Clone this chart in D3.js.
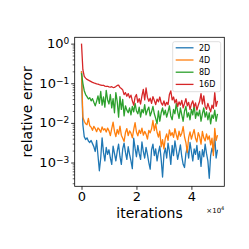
<!DOCTYPE html>
<html>
<head>
<meta charset="utf-8">
<script src="https://cdn.jsdelivr.net/npm/d3@7"></script>
<style>
  html, body { margin: 0; padding: 0; background: #fff; }
  svg { display: block; font-family: "DejaVu Sans", sans-serif; }
</style>
</head>
<body>
<svg class="main" width="249" height="249"></svg>
<script>
// iterations sampled every 500 steps
var step = 500;

var labels = ['2D', '4D', '8D', '16D'];
var colors = ['#1f77b4', '#ff7f0e', '#2ca02c', '#d62728'];

var err2D = [
    0.2, 0.009, 0.0045, 0.0038, 0.0042, 0.0035, 0.0032, 0.0036, 0.003, 0.0025,
    0.0019, 0.0036, 0.0015, 0.00062, 0.0013, 0.0042, 0.0018, 0.0011, 0.0024, 0.0016,
    0.0021, 0.0013, 0.0009, 0.0026, 0.0017, 0.0011, 0.0019, 0.0029, 0.0014, 0.0009,
    0.0022, 0.0031, 0.0018, 0.0012, 0.0025, 0.0016, 0.0011, 0.0007, 0.0041, 0.0023,
    0.0014, 0.0027, 0.0017, 0.0012, 0.0033, 0.0019, 0.0013, 0.0024, 0.0016, 0.001,
    0.00068, 0.0021, 0.0029, 0.0015, 0.0022, 0.0011, 0.0018, 0.0026, 0.0012, 0.00043,
    0.0016, 0.0023, 0.0013, 0.0031, 0.0019, 0.0009, 0.0027, 0.0015, 0.0035, 0.0021,
    0.0012, 0.0018, 0.0028, 0.0014, 0.0009, 0.00075, 0.0017, 0.0024, 0.0013, 0.0032,
    0.0019, 0.0011, 0.0022, 0.0016, 0.0027, 0.0012, 0.0019, 0.0008, 0.0021, 0.0014,
    0.0029, 0.0017, 0.0011, 0.0004, 0.0015, 0.0023, 0.0018, 0.0045, 0.0013, 0.0021
];

var err4D = [
    0.2, 0.014, 0.011, 0.0095, 0.009, 0.013, 0.0085, 0.0078, 0.0065, 0.0082,
    0.0072, 0.006, 0.0075, 0.0068, 0.0058, 0.0079, 0.0066, 0.0071, 0.0059, 0.0074,
    0.0063, 0.0048, 0.0072, 0.0105, 0.0061, 0.0045, 0.0068, 0.0052, 0.0083, 0.0049,
    0.0041, 0.0034, 0.0057, 0.0072, 0.0048, 0.0063, 0.0055, 0.0042, 0.0068, 0.0102,
    0.0059, 0.0047, 0.0066, 0.0054, 0.0074, 0.0049, 0.0061, 0.0052, 0.0039, 0.0065,
    0.0056, 0.0071, 0.0115, 0.0064, 0.0095, 0.0058, 0.0044, 0.0062, 0.0025, 0.0038,
    0.0022, 0.0041, 0.0053, 0.0036, 0.0067, 0.0048, 0.0057, 0.0043, 0.0072, 0.0051,
    0.0038, 0.0062, 0.0046, 0.0055, 0.0081, 0.0044, 0.0032, 0.0018, 0.0043, 0.0059,
    0.0039, 0.0052, 0.0068, 0.0041, 0.0033, 0.0057, 0.0045, 0.0029, 0.0061, 0.0042,
    0.0035, 0.0053, 0.0038, 0.0047, 0.0028, 0.0041, 0.0015, 0.0073, 0.0036, 0.0049
];

var err8D = [
    0.18, 0.1, 0.065, 0.052, 0.046, 0.04, 0.043, 0.036, 0.041, 0.033,
    0.027, 0.035, 0.048, 0.031, 0.062, 0.028, 0.045, 0.025, 0.066, 0.038,
    0.03, 0.052, 0.024, 0.041, 0.018, 0.058, 0.035, 0.014, 0.046, 0.022,
    0.039, 0.015, 0.027, 0.021, 0.018, 0.024, 0.016, 0.026, 0.019, 0.031,
    0.02, 0.017, 0.025, 0.014, 0.022, 0.018, 0.029, 0.016, 0.021, 0.025,
    0.015, 0.019, 0.026, 0.017, 0.013, 0.0095, 0.02, 0.011, 0.018, 0.024,
    0.016, 0.021, 0.014, 0.019, 0.027, 0.015, 0.012, 0.022, 0.017, 0.031,
    0.019, 0.013, 0.024, 0.016, 0.011, 0.02, 0.026, 0.014, 0.018, 0.012,
    0.022, 0.016, 0.028, 0.013, 0.019, 0.015, 0.021, 0.011, 0.017, 0.024,
    0.014, 0.019, 0.012, 0.018, 0.0095, 0.016, 0.013, 0.021, 0.011, 0.017
];

var err16D = [
    1.0, 0.22, 0.15, 0.135, 0.125, 0.12, 0.115, 0.11, 0.105, 0.102,
    0.1, 0.097, 0.095, 0.092, 0.09, 0.088, 0.089, 0.085, 0.083, 0.084,
    0.081, 0.08, 0.082, 0.078, 0.079, 0.083, 0.088, 0.09, 0.078, 0.074,
    0.068, 0.052, 0.058, 0.047, 0.055, 0.043, 0.05, 0.036, 0.028, 0.045,
    0.052, 0.033, 0.041, 0.03, 0.048, 0.07, 0.038, 0.076, 0.044, 0.035,
    0.042, 0.031, 0.046, 0.037, 0.029, 0.04, 0.034, 0.045, 0.032, 0.028,
    0.036, 0.027, 0.033, 0.029, 0.052, 0.064, 0.038, 0.045, 0.032, 0.039,
    0.026, 0.034, 0.028, 0.037, 0.024, 0.031, 0.041, 0.027, 0.033, 0.022,
    0.03, 0.036, 0.025, 0.032, 0.021, 0.028, 0.035, 0.055, 0.03, 0.048,
    0.026, 0.022, 0.031, 0.024, 0.019, 0.028, 0.023, 0.058, 0.026, 0.036
];

var series = [err2D, err4D, err8D, err16D];

var xTicks = [0, 20000, 40000],
    xTickLabels = ['0', '2', '4'],
    yTicks = [1, 0.1, 0.01, 0.001],
    yTickExps = ['0', '\u22121', '\u22122', '\u22123'];

// axes box (note: "top" is reserved on window, so use plot* names)
var plotLeft = 74.7,
    plotRight = 224.3,
    plotTop = 37.3,
    plotBottom = 186.3,
    lineWidth = 1.3,
    tickFont = 13,
    labelFont = 14;

var svg = d3.select('.main');

var nPts = err2D.length;
var xMax = (nPts - 1) * step,
    xPad = xMax * 0.05;

var x = d3.scaleLinear()
    .domain([-xPad, xMax + xPad])
    .range([plotLeft, plotRight]);

var y = d3.scaleLog()
    .domain([Math.pow(10, -3.6), Math.pow(10, 0.16)])
    .range([plotBottom, plotTop]);

var line = d3.line()
    .x(function(d, i) { return x(i * step); })
    .y(function(d) { return y(d); });

// clip lines to the axes box
svg.append('clipPath')
    .attr('id', 'plotclip')
    .append('rect')
    .attr('x', plotLeft)
    .attr('y', plotTop)
    .attr('width', plotRight - plotLeft)
    .attr('height', plotBottom - plotTop);

var plot = svg.append('g')
    .attr('clip-path', 'url(#plotclip)');

plot.selectAll('.series')
    .data(series)
    .enter().append('path')
    .attr('class', 'series')
    .attr('d', line)
    .attr('fill', 'none')
    .attr('stroke', function(d, i) { return colors[i]; })
    .attr('stroke-width', lineWidth)
    .attr('stroke-linejoin', 'round');

// x axis
var xAxis = d3.axisBottom(x)
    .tickValues(xTicks)
    .tickSize(3.5)
    .tickPadding(2)
    .tickFormat(function(d, i) { return xTickLabels[i]; });

var gX = svg.append('g')
    .attr('transform', 'translate(0,' + plotBottom + ')')
    .call(xAxis);

gX.select('.domain').remove();
gX.selectAll('line').attr('stroke', '#000').attr('stroke-width', 0.8);
gX.selectAll('text')
    .attr('fill', '#000')
    .style('font-size', tickFont + 'px')
    .style('font-family', 'DejaVu Sans');

// y axis: major ticks with mathtext-like labels, minor ticks 2..9
var minorTicks = [];
[-4, -3, -2, -1, 0].forEach(function(e) {
    for (var m = 2; m <= 9; m++) {
        var v = m * Math.pow(10, e);
        if (v >= y.domain()[0] && v <= y.domain()[1]) minorTicks.push(v);
    }
});

var yAxisMinor = d3.axisLeft(y)
    .tickValues(minorTicks)
    .tickSize(2)
    .tickFormat('');

var gYm = svg.append('g')
    .attr('transform', 'translate(' + plotLeft + ',0)')
    .call(yAxisMinor);
gYm.select('.domain').remove();
gYm.selectAll('line').attr('stroke', '#000').attr('stroke-width', 0.6);

var yAxis = d3.axisLeft(y)
    .tickValues(yTicks)
    .tickSize(3.5)
    .tickFormat('');

var gY = svg.append('g')
    .attr('transform', 'translate(' + plotLeft + ',0)')
    .call(yAxis);
gY.select('.domain').remove();
gY.selectAll('line').attr('stroke', '#000').attr('stroke-width', 0.8);

var yLab = svg.append('g').selectAll('text')
    .data(yTicks)
    .enter().append('text')
    .attr('x', plotLeft - 5.5)
    .attr('y', function(d) { return y(d) + 4.6; })
    .attr('text-anchor', 'end')
    .style('font-size', tickFont + 'px');

yLab.append('tspan').text('10');
yLab.append('tspan')
    .attr('dy', '-0.45em')
    .style('font-size', '9px')
    .text(function(d, i) { return yTickExps[i]; });

// frame
svg.append('rect')
    .attr('x', plotLeft)
    .attr('y', plotTop)
    .attr('width', plotRight - plotLeft)
    .attr('height', plotBottom - plotTop)
    .attr('fill', 'none')
    .attr('stroke', '#000')
    .attr('stroke-width', 0.8);

// axis labels
svg.append('text')
    .attr('x', (plotLeft + plotRight) / 2)
    .attr('y', 217.5)
    .attr('text-anchor', 'middle')
    .style('font-size', labelFont + 'px')
    .text('iterations');

svg.append('text')
    .attr('transform', 'translate(32,' + (plotTop + plotBottom) / 2 + ') rotate(-90)')
    .attr('text-anchor', 'middle')
    .style('font-size', labelFont + 'px')
    .text('relative error');

// offset text for x axis
var offs = svg.append('text')
    .attr('x', plotRight)
    .attr('y', 212.5)
    .attr('text-anchor', 'end')
    .style('font-size', '7px');
offs.append('tspan').text('\u00d710');
offs.append('tspan')
    .attr('dy', '-0.45em')
    .style('font-size', '5px')
    .text('4');

// legend
var legend = svg.append('g');

legend.append('rect')
    .attr('x', 172.7)
    .attr('y', 41.7)
    .attr('width', 48)
    .attr('height', 50)
    .attr('rx', 2)
    .attr('fill', '#fff')
    .attr('fill-opacity', 0.8)
    .attr('stroke', '#d5d5d5')
    .attr('stroke-width', 0.8);

var rowY = d3.scalePoint()
    .domain(labels)
    .range([47.8, 84.4]);

var entry = legend.selectAll('.entry')
    .data(labels)
    .enter().append('g')
    .attr('class', 'entry')
    .attr('transform', function(d) { return 'translate(0,' + rowY(d) + ')'; });

entry.append('line')
    .attr('x1', 175.7)
    .attr('x2', 193.5)
    .attr('stroke', function(d, i) { return colors[i]; })
    .attr('stroke-width', lineWidth);

entry.append('text')
    .attr('x', 199)
    .attr('y', 2.9)
    .style('font-size', '8px')
    .text(function(d) { return d; });
</script>
</body>
</html>
